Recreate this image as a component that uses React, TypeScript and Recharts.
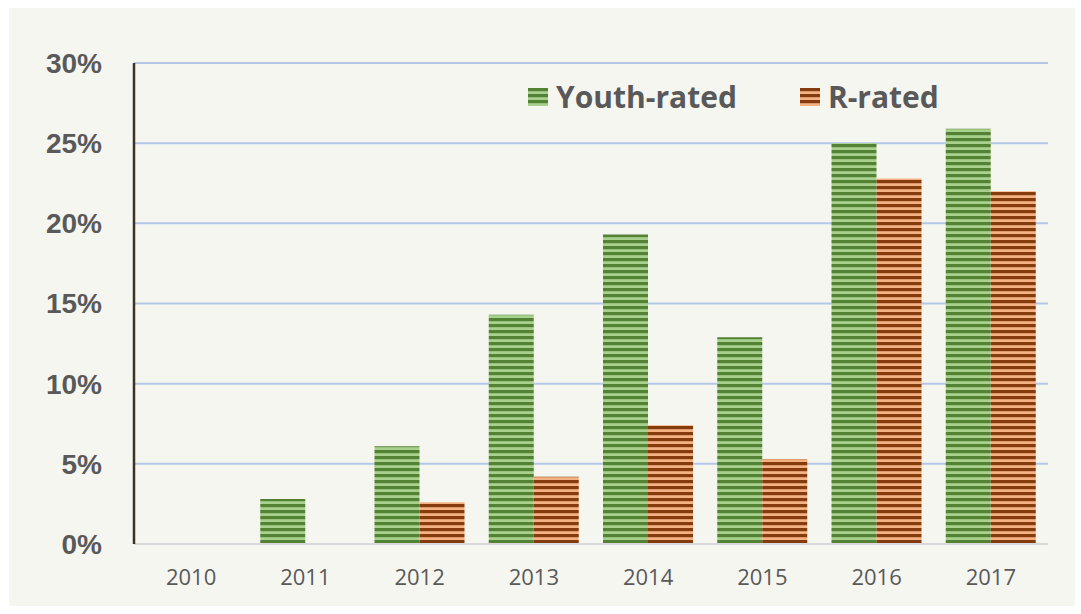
import { BarChart, Bar, XAxis, YAxis, CartesianGrid } from "recharts";

const YEARS = ["2010", "2011", "2012", "2013", "2014", "2015", "2016", "2017"];
const YOUTH = [0, 2.8, 6.1, 14.3, 19.3, 12.9, 25.0, 25.9];
const R_RATED = [0, 0, 2.6, 4.2, 7.4, 5.3, 22.8, 22.0];
const Y_TICKS = [0, 5, 10, 15, 20, 25, 30];

const SERIES = [
  { key: "youth", name: "Youth-rated", pattern: "stripeGreen" },
  { key: "r", name: "R-rated", pattern: "stripeOrange" },
];

const data = YEARS.map((year, i) => ({ year, youth: YOUTH[i], r: R_RATED[i] }));

const TEXT = "#595959";

function Patterns() {
  return (
    <defs>
      <pattern id="stripeGreen" patternUnits="userSpaceOnUse" width={8} height={6}>
        <rect width={8} height={6} fill="#a9d18e" />
        <rect width={8} height={3.2} fill="#548235" />
      </pattern>
      <pattern id="stripeOrange" patternUnits="userSpaceOnUse" width={8} height={6}>
        <rect width={8} height={6} fill="#f4b183" />
        <rect width={8} height={3.2} fill="#843c0c" />
      </pattern>
    </defs>
  );
}

function LegendBox() {
  return (
    <div
      style={{
        position: "absolute",
        left: 528,
        top: 76,
        display: "flex",
        alignItems: "center",
        fontFamily: "'Open Sans', sans-serif",
        fontWeight: 700,
        fontSize: 30,
        color: TEXT,
        whiteSpace: "nowrap",
      }}
    >
      {SERIES.map((s, i) => (
        <div key={s.key} style={{ display: "flex", alignItems: "center", marginRight: i === 0 ? 63 : 0 }}>
          <svg width={20} height={18} style={{ marginRight: 8 }}>
            <rect width={20} height={18} fill={`url(#${s.pattern})`} />
          </svg>
          <span>{s.name}</span>
        </div>
      ))}
    </div>
  );
}

export default function App() {
  return (
    <div style={{ position: "relative", width: 1081, height: 614, background: "#ffffff" }}>
      <style>{"body{margin:0}"}</style>
      <div style={{ position: "absolute", left: 9, top: 8, width: 1066, height: 598, background: "#f6f6f0" }} />
      <div style={{ position: "absolute", left: 0, top: 0 }}>
        <BarChart
          width={1081}
          height={614}
          data={data}
          margin={{ top: 63, right: 33, bottom: 0, left: 0 }}
          barGap={0}
          barSize={45}
        >
          <Patterns />
          <CartesianGrid vertical={false} stroke="#b4c7e7" strokeWidth={2} />
          <XAxis
            dataKey="year"
            height={70}
            tickLine={false}
            tickMargin={19}
            axisLine={{ stroke: "#d9d9d9", strokeWidth: 2 }}
            tick={{ fill: TEXT, fontSize: 22, fontFamily: "'Open Sans', sans-serif" }}
          />
          <YAxis
            width={134}
            domain={[0, 30]}
            ticks={Y_TICKS}
            tickFormatter={(v) => `${v}%`}
            tickLine={false}
            tickMargin={26}
            axisLine={{ stroke: "#3b3325", strokeWidth: 2.5 }}
            tick={{ fill: TEXT, fontSize: 28, fontWeight: 700, fontFamily: "'Liberation Sans', Arial, sans-serif" }}
          />
          {SERIES.map((s) => (
            <Bar key={s.key} dataKey={s.key} name={s.name} fill={`url(#${s.pattern})`} isAnimationActive={false} />
          ))}
        </BarChart>
      </div>
      <LegendBox />
    </div>
  );
}
